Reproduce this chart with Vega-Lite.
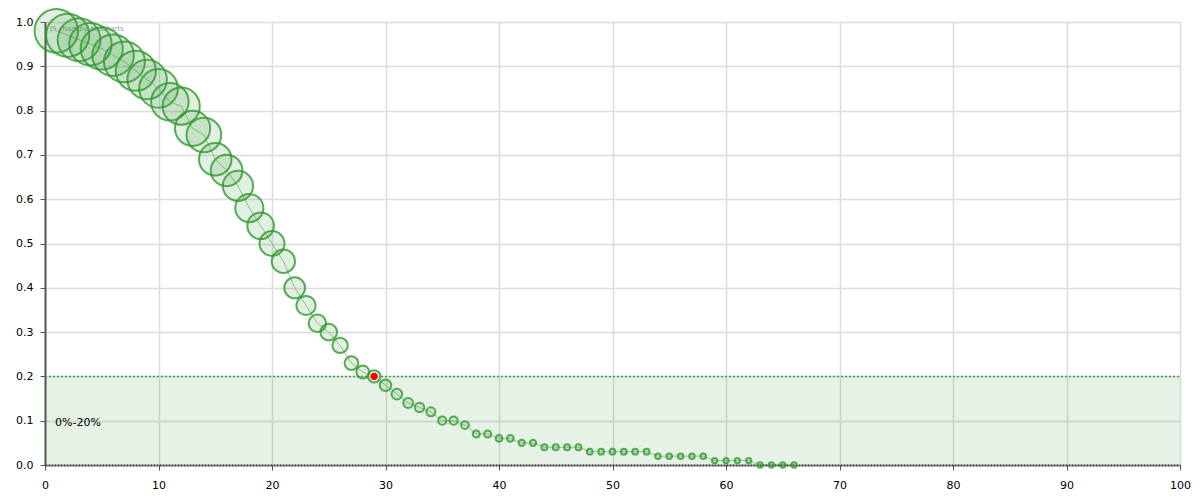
{
  "$schema": "https://vega.github.io/schema/vega-lite/v6.json",
  "width": 1135,
  "height": 443,
  "autosize": {"type": "none"},
  "padding": {"left": 45, "top": 22, "right": 20, "bottom": 35},
  "background": "white",
  "config": {
    "view": {"stroke": null},
    "font": "DejaVu Sans",
    "axis": {"labelFont": "DejaVu Sans", "labelFontSize": 11, "labelColor": "#000", "gridColor": "#dcdcdc", "gridWidth": 1.5, "tickColor": "#555", "tickSize": 5, "labelFlush": false, "labelOverlap": false}
  },
  "datasets": {
    "pts": [
      {"x": 1, "y": 0.98}, {"x": 2, "y": 0.97}, {"x": 3, "y": 0.96}, {"x": 4, "y": 0.95}, {"x": 5, "y": 0.94},
      {"x": 6, "y": 0.925}, {"x": 7, "y": 0.91}, {"x": 8, "y": 0.89}, {"x": 9, "y": 0.87}, {"x": 10, "y": 0.85},
      {"x": 11, "y": 0.82}, {"x": 12, "y": 0.81}, {"x": 13, "y": 0.76}, {"x": 14, "y": 0.745}, {"x": 15, "y": 0.69},
      {"x": 16, "y": 0.665}, {"x": 17, "y": 0.63}, {"x": 18, "y": 0.58}, {"x": 19, "y": 0.54}, {"x": 20, "y": 0.5},
      {"x": 21, "y": 0.46}, {"x": 22, "y": 0.4}, {"x": 23, "y": 0.36}, {"x": 24, "y": 0.32}, {"x": 25, "y": 0.3},
      {"x": 26, "y": 0.27}, {"x": 27, "y": 0.23}, {"x": 28, "y": 0.21}, {"x": 29, "y": 0.2}, {"x": 30, "y": 0.18},
      {"x": 31, "y": 0.16}, {"x": 32, "y": 0.14}, {"x": 33, "y": 0.13}, {"x": 34, "y": 0.12}, {"x": 35, "y": 0.1},
      {"x": 36, "y": 0.1}, {"x": 37, "y": 0.09}, {"x": 38, "y": 0.07}, {"x": 39, "y": 0.07}, {"x": 40, "y": 0.06},
      {"x": 41, "y": 0.06}, {"x": 42, "y": 0.05}, {"x": 43, "y": 0.05}, {"x": 44, "y": 0.04}, {"x": 45, "y": 0.04},
      {"x": 46, "y": 0.04}, {"x": 47, "y": 0.04}, {"x": 48, "y": 0.03}, {"x": 49, "y": 0.03}, {"x": 50, "y": 0.03},
      {"x": 51, "y": 0.03}, {"x": 52, "y": 0.03}, {"x": 53, "y": 0.03}, {"x": 54, "y": 0.02}, {"x": 55, "y": 0.02},
      {"x": 56, "y": 0.02}, {"x": 57, "y": 0.02}, {"x": 58, "y": 0.02}, {"x": 59, "y": 0.01}, {"x": 60, "y": 0.01},
      {"x": 61, "y": 0.01}, {"x": 62, "y": 0.01}, {"x": 63, "y": 0}, {"x": 64, "y": 0}, {"x": 65, "y": 0},
      {"x": 66, "y": 0}
    ],
    "band": [{"x0": 0, "x1": 100, "y0": 0, "y1": 0.2, "label": "0%-20%"}]
  },
  "layer": [
    {
      "data": {"name": "band"},
      "mark": {"type": "rect", "color": "#339933", "opacity": 0.13},
      "encoding": {
        "x": {"field": "x0", "type": "quantitative", "scale": {"domain": [0, 100], "nice": false, "zero": false},
          "axis": {"values": [0,10,20,30,40,50,60,70,80,90,100], "title": null, "grid": true, "domainColor": "#333", "domainWidth": 2, "domainDash": [2, 1], "labelPadding": 9}},
        "x2": {"field": "x1"},
        "y": {"field": "y0", "type": "quantitative", "scale": {"domain": [0, 1], "nice": false},
          "axis": {"values": [0,0.1,0.2,0.3,0.4,0.5,0.6,0.7,0.8,0.9,1.0], "format": ".1f", "title": null, "grid": true, "domainColor": "#555", "domainWidth": 2, "labelPadding": 7}},
        "y2": {"field": "y1"}
      }
    },
    {
      "data": {"name": "band"},
      "mark": {"type": "rule", "color": "#339933", "strokeWidth": 1.5, "strokeDash": [2, 2], "opacity": 0.85},
      "encoding": {"y": {"field": "y1", "type": "quantitative"}, "x": {"field": "x0", "type": "quantitative"}, "x2": {"field": "x1"}}
    },
    {
      "data": {"name": "band"},
      "mark": {"type": "text", "align": "left", "baseline": "middle", "fontSize": 11, "color": "#000", "dx": 10},
      "encoding": {"x": {"field": "x0", "type": "quantitative"}, "y": {"datum": 0.094}, "text": {"field": "label"}}
    },
    {
      "data": {"values": [{"t": "JS chart by amCharts"}]},
      "mark": {"type": "text", "align": "left", "baseline": "middle", "fontSize": 7, "color": "#999", "dx": 5},
      "encoding": {"x": {"datum": 0}, "y": {"datum": 0.985}, "text": {"field": "t"}}
    },
    {
      "data": {"name": "pts"},
      "mark": {"type": "line", "color": "#339933", "strokeWidth": 1, "opacity": 0.5},
      "encoding": {"x": {"field": "x", "type": "quantitative"}, "y": {"field": "y", "type": "quantitative"}}
    },
    {
      "data": {"name": "pts"},
      "mark": {"type": "circle", "fill": "#339933", "fillOpacity": 0.15, "stroke": "#2f992f", "strokeOpacity": 0.8, "strokeWidth": 2},
      "encoding": {
        "x": {"field": "x", "type": "quantitative"},
        "y": {"field": "y", "type": "quantitative"},
        "size": {"field": "y", "type": "quantitative", "scale": {"type": "pow", "exponent": 1.7, "domain": [0, 1], "range": [28, 1963]}, "legend": null}
      }
    },
    {
      "data": {"name": "pts"},
      "transform": [{"filter": "datum.x == 29"}],
      "mark": {"type": "circle", "fill": "#ff0000", "opacity": 1, "stroke": "white", "strokeWidth": 1, "size": 70},
      "encoding": {"x": {"field": "x", "type": "quantitative"}, "y": {"field": "y", "type": "quantitative"}}
    }
  ]
}
